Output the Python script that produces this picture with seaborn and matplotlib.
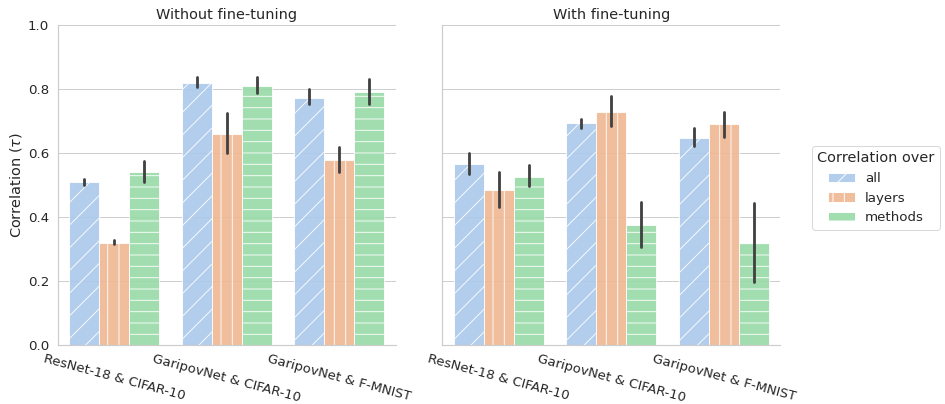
import numpy as np
import pandas as pd
import matplotlib
matplotlib.use("Agg")
import matplotlib.pyplot as plt
from matplotlib.patches import Patch
import seaborn as sns

# Kendall-tau correlation summaries: bar height with lower/upper interval bounds
settings = ["Without fine-tuning", "With fine-tuning"]
models = ["ResNet-18 & CIFAR-10", "GaripovNet & CIFAR-10", "GaripovNet & F-MNIST"]
groups = ["all", "layers", "methods"]

# rows: model, columns: group
mean_without = [[0.510, 0.320, 0.542],
                [0.820, 0.659, 0.809],
                [0.773, 0.579, 0.790]]
low_without = [[0.500, 0.316, 0.508],
               [0.805, 0.601, 0.787],
               [0.752, 0.540, 0.752]]
high_without = [[0.520, 0.328, 0.576],
                [0.838, 0.724, 0.838],
                [0.799, 0.618, 0.830]]

mean_with = [[0.566, 0.484, 0.525],
             [0.693, 0.729, 0.375],
             [0.648, 0.690, 0.320]]
low_with = [[0.534, 0.430, 0.497],
            [0.679, 0.684, 0.306],
            [0.622, 0.651, 0.197]]
high_with = [[0.600, 0.540, 0.562],
             [0.705, 0.778, 0.447],
             [0.677, 0.729, 0.444]]

hatches = ["/", "|", "-"]

rows = []
for setting, m, lo, hi in [(settings[0], mean_without, low_without, high_without),
                           (settings[1], mean_with, low_with, high_with)]:
    for i, model in enumerate(models):
        for j, grp in enumerate(groups):
            for v in (lo[i][j], m[i][j], hi[i][j]):
                rows.append({"setting": setting, "model": model,
                             "Correlation over": grp, "tau": v})
df = pd.DataFrame(rows)

sns.set_theme(style="whitegrid", palette="pastel")
plt.rcParams["hatch.color"] = "white"
plt.rcParams["hatch.linewidth"] = 1.0

dpi = 68
fig, axes = plt.subplots(1, 2, figsize=(945 / dpi, 404 / dpi), dpi=dpi, sharey=True)
fig.subplots_adjust(left=0.0614, right=0.8254, top=0.938, bottom=0.146, wspace=0.139)

for ax, setting in zip(axes, settings):
    sns.barplot(data=df[df["setting"] == setting], x="model", y="tau",
                hue="Correlation over", order=models, hue_order=groups,
                estimator="median", errorbar=("pi", 100),
                edgecolor="white", linewidth=1.0,
                err_kws={"linewidth": 3.0, "color": ".26"},
                ax=ax, legend=False)
    for cont, h in zip(ax.containers, hatches):
        for bar in cont:
            bar.set_hatch(h)
            bar.set_alpha(0.9)
    ax.set_title(setting, fontsize=15.3)
    ax.set_xlabel("")
    ax.set_ylim(0, 1.0)
    ax.set_yticks([0, 0.2, 0.4, 0.6, 0.8, 1.0])
    ax.tick_params(axis="y", labelsize=14.2)
    ax.tick_params(axis="x", labelsize=14.0, pad=2)
    for lab in ax.get_xticklabels():
        lab.set_rotation(-15)
        lab.set_ha("center")
    sns.despine(ax=ax)

axes[0].set_ylabel(r"Correlation ($\tau$)", fontsize=15.3)
axes[1].set_ylabel("")

handles = [Patch(facecolor=c.patches[0].get_facecolor(), edgecolor="white",
                 hatch=h, label=g)
           for c, h, g in zip(axes[0].containers, hatches, groups)]
fig.legend(handles=handles, title="Correlation over", loc="center left",
           bbox_to_anchor=(0.852, 0.535), fontsize=14.2, title_fontsize=15.3,
           frameon=True)

fig.savefig("out.png", dpi=dpi)
